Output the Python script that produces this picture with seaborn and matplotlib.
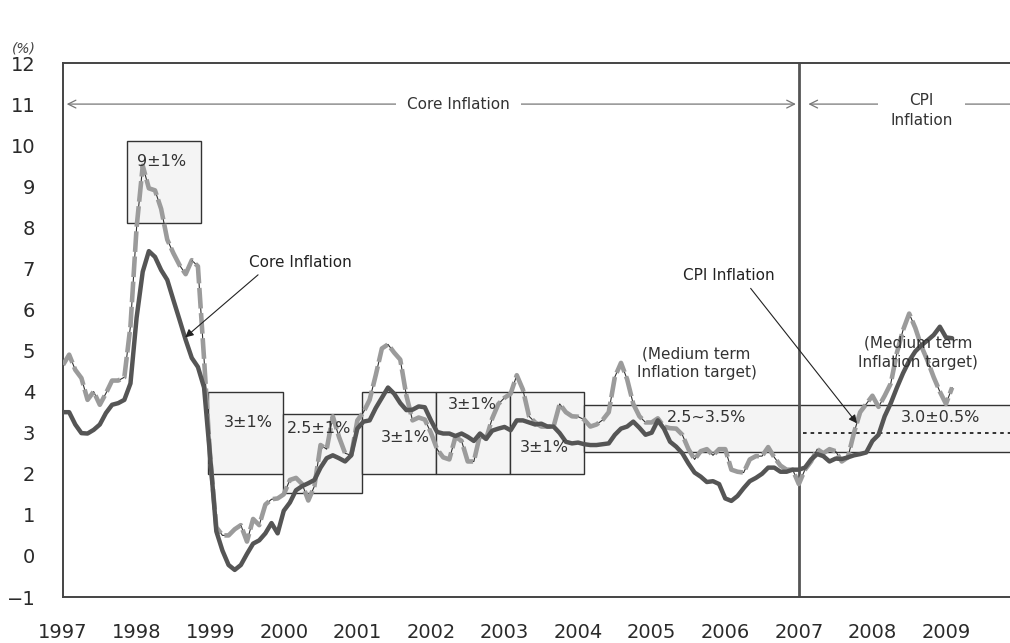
import numpy as np
import pandas as pd
import matplotlib
matplotlib.use('Agg')
import matplotlib.pyplot as plt
from matplotlib.patches import Rectangle
import seaborn as sns

# monthly data, Jan 1997 - Feb 2009 (year-on-year, %)
start_year = 1997
years = list(range(1997, 2010))

cpi = [4.65, 4.9, 4.53, 4.33, 3.8, 4.0, 3.68, 3.96, 4.27, 4.27, 4.35, 5.6,
       8.0, 9.5, 8.95, 8.9, 8.45, 7.7, 7.37, 7.08, 6.86, 7.2, 7.05, 4.8,
       2.4, 0.7, 0.5, 0.5, 0.65, 0.75, 0.35, 0.9, 0.75, 1.25, 1.38, 1.4,
       1.5, 1.85, 1.9, 1.75, 1.35, 1.7, 2.7, 2.6, 3.4, 2.9, 2.5, 2.45,
       3.3, 3.5, 3.8, 4.4, 5.05, 5.15, 4.95, 4.78, 3.9, 3.3, 3.37, 3.32,
       3.0, 2.6, 2.4, 2.35, 2.9, 2.8, 2.3, 2.3, 2.95, 2.85, 3.35, 3.7,
       3.85, 3.95, 4.4, 4.05, 3.4, 3.25, 3.15, 3.15, 3.15, 3.7, 3.5, 3.4,
       3.39, 3.32, 3.15, 3.2, 3.31, 3.5, 4.36, 4.7, 4.3, 3.7, 3.4, 3.25,
       3.25, 3.35, 3.15, 3.11, 3.1, 2.95, 2.6, 2.35, 2.55, 2.6, 2.45, 2.6,
       2.6, 2.1, 2.05, 2.03, 2.35, 2.43, 2.43, 2.65, 2.4, 2.2, 2.1, 2.1,
       1.75, 2.1, 2.3, 2.6, 2.5, 2.6, 2.55, 2.3, 2.4, 3.0, 3.5, 3.7,
       3.9, 3.63, 3.9, 4.2, 4.95, 5.5, 5.9, 5.55, 5.1, 4.75, 4.35, 4.0,
       3.7, 4.1]

core = [3.5, 3.5, 3.2, 2.99, 2.98, 3.07, 3.2, 3.48, 3.68, 3.72, 3.8, 4.2,
        5.8, 6.92, 7.42, 7.28, 6.96, 6.72, 6.23, 5.75, 5.26, 4.82, 4.6, 4.1,
        2.4, 0.6, 0.13, -0.22, -0.34, -0.22, 0.05, 0.3, 0.38, 0.55, 0.8, 0.55,
        1.1, 1.3, 1.6, 1.7, 1.77, 1.85, 2.15, 2.38, 2.45, 2.38, 2.3, 2.45,
        3.1, 3.27, 3.3, 3.6, 3.85, 4.1, 3.95, 3.72, 3.55, 3.56, 3.64, 3.62,
        3.3, 3.02, 2.98, 2.98, 2.92, 2.98, 2.9, 2.8, 2.98, 2.85, 3.05, 3.1,
        3.14, 3.06, 3.3, 3.3, 3.25, 3.2, 3.22, 3.15, 3.15, 2.99, 2.78, 2.74,
        2.76, 2.72, 2.7, 2.7, 2.72, 2.74, 2.95, 3.1, 3.15, 3.27, 3.12, 2.95,
        3.0, 3.3, 3.1, 2.78, 2.66, 2.5, 2.25, 2.03, 1.93, 1.8, 1.82, 1.75,
        1.4, 1.34, 1.46, 1.65, 1.82, 1.9, 2.0, 2.15, 2.15, 2.05, 2.05, 2.1,
        2.1, 2.15, 2.35, 2.48, 2.43, 2.3, 2.37, 2.36, 2.4, 2.45, 2.48, 2.52,
        2.8, 2.95, 3.4, 3.72, 4.1, 4.45, 4.75, 4.98, 5.13, 5.25, 5.38, 5.58,
        5.32, 5.3]

# inflation targets
band_labels = ['9±1%', '3±1%', '2.5±1%', '3±1%', '3±1%', '3±1%', '2.5~3.5%', '3.0±0.5%']
band_start = [1997.87, 1998.97, 1999.985, 2001.06, 2002.07, 2003.07, 2004.08, 2007.0]
band_end = [1998.875, 1999.985, 2001.06, 2002.07, 2003.07, 2004.08, 2007.0, 2010.5]
band_low = [8.1, 2.0, 1.53, 2.0, 2.0, 2.0, 2.53, 2.53]
band_high = [10.1, 4.0, 3.45, 4.0, 4.0, 4.0, 3.67, 3.67]
cpi_target = 3.0
regime_change = 2007

# where each band label sits
label_x = [1998.34, 1999.52, 2000.48, 2001.65, 2002.56, 2003.54, 2005.75, 2008.92]
label_y = [9.6, 3.26, 3.1, 2.89, 3.69, 2.64, 3.37, 3.37]

sns.set_style('white')
plt.rcParams['font.family'] = ['DejaVu Sans']

df = pd.DataFrame({'year': start_year + np.arange(len(cpi)) / 12,
                   'CPI': cpi, 'Core': core})

fig = plt.figure(figsize=(10.1, 6.43), dpi=100)
ax = fig.add_axes([0.0624, 0.0715, 0.9376, 0.8305])

for lab, x0, x1, lo, hi, tx, ty in zip(band_labels, band_start, band_end,
                                       band_low, band_high, label_x, label_y):
    ax.add_patch(Rectangle((x0, lo), x1 - x0, hi - lo, facecolor='#f4f4f4',
                           edgecolor='#333333', lw=1.0, zorder=1))
    ax.text(tx, ty, lab, ha='center', va='center', fontsize=11.5,
            color='#333333', zorder=6)

ax.hlines(cpi_target, regime_change + 0.05, 2010.5, colors='#222222',
          linestyles=(0, (2, 2.2)), lw=1.3, zorder=2)
ax.axvline(regime_change, color='#555555', lw=2, zorder=2)

sns.lineplot(data=df, x='year', y='CPI', color='#333333', lw=0.8,
             errorbar=None, ax=ax, zorder=3)
sns.lineplot(data=df, x='year', y='CPI', color='#9b9b9b', lw=3.3,
             linestyle=(0, (4.5, 1)), errorbar=None, ax=ax, zorder=3.5)
sns.lineplot(data=df, x='year', y='Core', color='#555555', lw=3.2,
             errorbar=None, ax=ax, zorder=4)

# regime banners
arrow_kw = dict(arrowstyle='<->', color='#777777', lw=0.9,
                shrinkA=0, shrinkB=0, mutation_scale=14)
ax.annotate('', xy=(1997.05, 11), xytext=(2006.96, 11), arrowprops=arrow_kw)
ax.text(2002.37, 11, 'Core Inflation', ha='center', va='center', fontsize=11,
        color='#333333', bbox=dict(facecolor='white', edgecolor='none', pad=8),
        zorder=6)
ax.annotate('', xy=(2007.13, 11), xytext=(2010.6, 11), arrowprops=arrow_kw,
            annotation_clip=False)
ax.text(2008.67, 10.84, 'CPI\nInflation', ha='center', va='center',
        fontsize=11, color='#333333', linespacing=1.45,
        bbox=dict(facecolor='white', edgecolor='none', pad=9), zorder=6)

# series call-outs
ax.annotate('Core Inflation', xy=(1998.66, 5.32), xytext=(2000.22, 7.15),
            ha='center', va='center', fontsize=11, color='#222222',
            arrowprops=dict(arrowstyle='-|>', color='#222222', lw=0.8,
                            mutation_scale=12, relpos=(0.15, 0), shrinkA=2,
                            shrinkB=0), zorder=6)
ax.annotate('CPI Inflation', xy=(2007.79, 3.23), xytext=(2006.05, 6.83),
            ha='center', va='center', fontsize=11, color='#222222',
            arrowprops=dict(arrowstyle='-|>', color='#222222', lw=0.8,
                            mutation_scale=12, relpos=(0.69, 0), shrinkA=2,
                            shrinkB=0), zorder=6)
for tx, ty in [(2005.61, 4.69), (2008.62, 4.94)]:
    ax.text(tx, ty, '(Medium term\nInflation target)', ha='center',
            va='center', fontsize=11, color='#333333', linespacing=1.35,
            zorder=6)

ax.set_xlim(1997, 2009.87)
ax.set_ylim(-1, 12)
ax.set_xticks(years)
ax.set_xticklabels([str(y) for y in years])
ax.set_yticks(range(-1, 13))
ax.set_xlabel('')
ax.set_ylabel('')

ax.tick_params(axis='both', direction='in', length=8, width=1,
               color='#555555', labelsize=14, labelcolor='#2a2a2a')
ax.tick_params(axis='x', pad=19)
ax.tick_params(axis='y', pad=20)
for side in ['top', 'left', 'bottom']:
    ax.spines[side].set_color('#444444')
    ax.spines[side].set_linewidth(1.4)
ax.spines['right'].set_visible(False)

fig.text(0.012, 0.925, '(%)', ha='left', va='center', fontsize=10,
         style='italic', color='#444444')

plt.savefig('out.png', dpi=100)
plt.close()
